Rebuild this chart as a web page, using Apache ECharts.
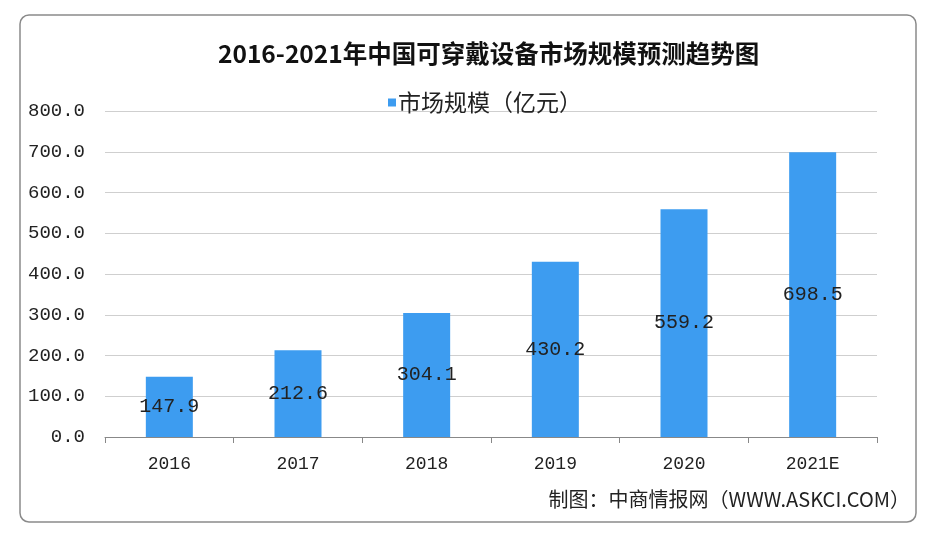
<!DOCTYPE html>
<html>
<head>
<meta charset="utf-8">
<script src="https://cdn.jsdelivr.net/npm/echarts@6/dist/echarts.min.js"></script>
<style>
html,body{margin:0;padding:0;background:#fff;}
#main{width:928px;height:542px;}
</style>
</head>
<body>
<div id="main"></div>
<script>
var categories = ['2016', '2017', '2018', '2019', '2020', '2021E'];
var marketSize = [147.9, 212.6, 304.1, 430.2, 559.2, 698.5];
var yTicks = [0, 100, 200, 300, 400, 500, 600, 700, 800];
var titleText = '2016-2021年中国可穿戴设备市场规模预测趋势图';
var seriesName = '市场规模（亿元）';
var sourceText = '制图：中商情报网（WWW.ASKCI.COM）';

var chart = echarts.init(document.getElementById('main'));
chart.setOption({
  backgroundColor: '#ffffff',
  animation: false,
  title: {
    text: titleText,
    left: 213,
    top: 36,
    textStyle: {
      fontFamily: 'Noto Sans CJK SC',
      fontSize: 24.5,
      fontWeight: 'bold',
      color: '#111'
    }
  },
  legend: {
    data: [seriesName],
    top: 86,
    left: 383,
    icon: 'rect',
    itemWidth: 8,
    itemHeight: 8,
    itemGap: 4,
    textStyle: {
      fontFamily: 'Noto Sans CJK SC',
      fontSize: 23,
      color: '#222',
      padding: [0, 0, 0, -3]
    }
  },
  grid: {
    left: 105,
    right: 51,
    top: 111,
    bottom: 105,
    containLabel: false
  },
  xAxis: {
    type: 'category',
    data: categories,
    axisLine: { show: true, lineStyle: { color: '#888', width: 1 } },
    axisTick: { show: true, length: 6, lineStyle: { color: '#888' } },
    axisLabel: {
      margin: 18,
      fontFamily: 'Liberation Mono',
      fontSize: 18,
      color: '#222'
    }
  },
  yAxis: {
    type: 'value',
    min: yTicks[0],
    max: yTicks[yTicks.length - 1],
    interval: 100,
    axisLine: { show: false },
    axisTick: { show: false },
    splitLine: { show: true, lineStyle: { color: '#cfcfcf', width: 1 } },
    axisLabel: {
      margin: 20,
      fontFamily: 'Liberation Mono',
      fontSize: 19,
      color: '#222',
      formatter: function (v) { return v.toFixed(1); }
    }
  },
  series: [{
    name: seriesName,
    type: 'bar',
    data: marketSize,
    barWidth: 47,
    itemStyle: { color: '#3d9cf0' },
    label: {
      show: true,
      position: 'inside',
      fontFamily: 'Liberation Mono',
      fontSize: 20,
      color: '#222',
      formatter: function (p) { return p.value.toFixed(1); }
    }
  }],
  graphic: [
    {
      type: 'rect',
      z: -1,
      shape: { x: 20, y: 15, width: 896, height: 507, r: 9 },
      style: { fill: 'none', stroke: '#8a8a8a', lineWidth: 1.5 }
    },
    {
      type: 'text',
      right: 18,
      top: 489,
      style: {
        text: sourceText,
        fontFamily: 'Noto Sans CJK SC',
        fontSize: 20,
        fill: '#222'
      }
    }
  ]
});
</script>
</body>
</html>
